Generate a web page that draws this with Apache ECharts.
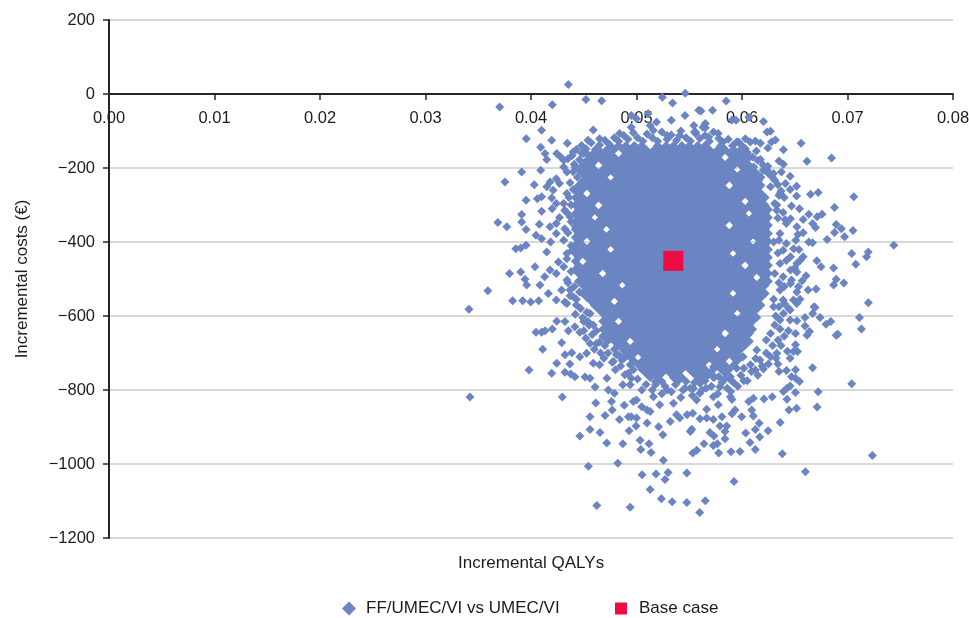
<!DOCTYPE html>
<html><head><meta charset="utf-8">
<style>html,body{margin:0;padding:0;background:#fff}#c{width:969px;height:618px}</style>
<script src="https://cdn.jsdelivr.net/npm/echarts@6/dist/echarts.min.js"></script>
</head><body><div id="c"></div>
<script>
const seriesName = "FF/UMEC/VI vs UMEC/VI";
const baseName = "Base case";
const baseCase = [0.05349, -451];
const xTickStep = 0.01;
const yTickStep = 200;

// Individually readable points: [incremental QALYs x 1000, incremental costs]
const outerPoints = [
[43.54,26],[37.03,-35],[45.21,-15],[46.70,-18],[42.02,-29],[52.45,-9],[54.62,2],[53.42,-24],[41.01,-98],[39.55,-121],[41.96,-125],[43.44,-133],[45.90,-97],[40.92,-144],[41.33,-161],[41.49,-177],[42.44,-161],[42.82,-170],[39.12,-211],[37.53,-238],[40.31,-245],[40.92,-206],[39.53,-287],[40.60,-283],[41.01,-278],[41.96,-281],[41.01,-317],[39.12,-326],[39.12,-346],[36.86,-347],[37.71,-359],[39.53,-366],[40.79,-352],[40.47,-382],[41.01,-391],[41.86,-400],[41.49,-427],[39.53,-409],[38.56,-418],[39.03,-416],[40.38,-467],[37.96,-485],[39.03,-481],[39.43,-501],[39.59,-516],[40.85,-516],[41.64,-539],[35.91,-532],[38.26,-559],[39.21,-559],[39.97,-562],[40.73,-559],[34.12,-582],
[34.21,-819],[42.97,-819],[39.81,-746],[41.11,-690],[41.96,-755],[42.44,-728],[43.22,-752],[43.68,-730],[43.76,-757],[44.16,-764],[40.47,-644],[41.01,-644],[41.33,-640],[42.02,-635],[42.91,-672],[43.22,-705],[43.86,-699],[43.54,-640],[42.44,-614],[43.22,-615],[44.63,-644],[44.16,-629],[44.63,-710],[45.27,-701],[45.12,-765],[45.59,-768],[46.07,-792],[47.33,-800],[47.90,-809],[46.14,-835],[47.63,-831],[47.70,-854],[48.84,-841],[45.59,-872],[47.02,-869],[48.39,-880],[49.24,-872],[45.59,-907],[44.63,-924],[46.54,-915],[47.18,-943],[48.70,-945],[49.30,-910],[49.96,-897],[50.34,-936],[51.19,-945],[50.41,-961],[51.38,-969],[52.55,-990],[45.44,-1006],[48.23,-998],[50.53,-1029],[51.85,-1027],[52.99,-1023],[54.77,-1024],[52.71,-1042],[51.29,-1069],[52.36,-1094],[53.38,-1102],[54.77,-1104],[46.24,-1112],[49.40,-1117],[55.99,-1131],
[56.52,-1099],[59.24,-1047],[66.01,-1021],[72.36,-977],[63.82,-972],[61.26,-961],[60.76,-942],[61.68,-927],[62.47,-910],[61.26,-907],[60.35,-916],[59.81,-966],[58.96,-967],[57.79,-970],[55.71,-963],[55.33,-970],[56.40,-945],[57.28,-950],[57.66,-945],[58.39,-932],[57.34,-924],[56.96,-915],[58.39,-912],[57.91,-897],[58.55,-897],[55.24,-906],[61.63,-890],[63.62,-888],[59.97,-872],[61.07,-870],[59.05,-864],[59.34,-854],[60.92,-854],[58.10,-872],[57.28,-880],[56.65,-876],[56.02,-878],[55.33,-863],[56.65,-852],[57.75,-840],[57.28,-818],[64.45,-854],[65.17,-849],[67.12,-846],[60.64,-831],[61.07,-822],[62.08,-824],[62.86,-818],[64.26,-825],[65.07,-807],[67.22,-805],[64.26,-795],[63.93,-804],[64.56,-789],[70.40,-783],[65.07,-768],[65.45,-777],[64.69,-764],[66.69,-740],[65.07,-745],[64.22,-747],[63.51,-750],[60.17,-775],[59.24,-781],[58.93,-804],[59.05,-826],[62.03,-743],[61.27,-746],[60.17,-741],[64.56,-714],[63.23,-714],[65.26,-696],[64.88,-696],[65.07,-678],[63.42,-665],[65.07,-647],[66.16,-652],[66.40,-642],[65.97,-627],[65.97,-604],[66.70,-593],[66.92,-577],[67.40,-604],[67.97,-622],[68.42,-615],[68.92,-652],[69.08,-649],[71.13,-604],[71.32,-635],[71.98,-564],[64.56,-611],[65.20,-613],[63.93,-593],[64.56,-584],[65.20,-566],[64.02,-566],
[58.50,-19],[56.11,-46],[57.21,-44],[59.05,-70],[59.43,-71],[60.64,-63],[62.03,-74],[56.52,-80],[56.52,-91],[55.43,-85],[55.59,-103],[57.75,-107],[62.37,-103],[62.69,-101],[56.84,-116],[59.67,-130],[60.32,-121],[60.32,-148],[60.79,-130],[61.27,-127],[61.74,-133],[62.79,-130],[63.17,-124],[62.45,-146],[61.36,-154],[65.60,-133],[63.93,-151],[66.16,-182],[68.49,-173],[61.74,-177],[63.51,-181],[63.93,-190],[62.45,-195],[70.59,-278],[66.49,-271],[67.22,-266],[65.17,-249],[64.56,-222],[64.12,-242],[63.74,-211],[62.98,-215],[62.50,-215],[65.17,-276],[64.56,-258],[63.51,-274],[68.77,-307],[65.45,-310],[64.69,-303],[67.59,-325],[67.12,-332],[66.33,-325],[65.80,-339],[68.93,-353],[69.42,-364],[70.52,-369],[68.77,-374],[69.72,-386],[68.07,-393],[66.69,-350],[66.97,-361],[65.20,-359],[65.80,-375],[66.33,-400],[66.69,-402],[74.39,-409],[70.40,-431],[71.81,-440],[71.96,-427],[70.78,-460],[65.80,-440],[67.09,-451],[67.49,-467],[68.68,-470],[65.20,-481],[66.07,-491],[68.93,-501],[68.68,-516],[69.65,-511],[64.69,-503],[65.35,-521],[66.27,-530],[67.02,-527],[64.88,-557],[65.50,-555],[64.41,-579],[66.83,-575],
[50.0,-827],[50.5,-845],[51.0,-854],[51.3,-858],[52.2,-840],[51.6,-818],[52.9,-800],[53.5,-836],[53.8,-867],[53.2,-885],[54.1,-876],[54.8,-867],[55.1,-912],[52.1,-899],[52.5,-921],[51.0,-889],[49.5,-872],[50.0,-876],[49.7,-831],[47.2,-768],[48.7,-786],[49.4,-786],[50.5,-800],[48.9,-759],[49.5,-768],[45.9,-728],[46.5,-732],[47.8,-723],[48.6,-719],[49.4,-732],[51.8,-777],[53.8,-768],[54.4,-800],[55.1,-795],[45.6,-674],[46.2,-674],[46.9,-714],[47.2,-665],[48.1,-705],[48.7,-674],[45.4,-615],[45.9,-624],
[56.0,-809],[55.7,-827],[56.6,-795],[57.9,-791],[58.9,-764],[57.3,-737],[56.6,-764],[59.5,-741],[60.8,-732],[61.7,-719],[62.7,-710],[63.3,-701],[61.4,-692],[60.1,-710],[62.3,-665],[63.1,-624],[62.7,-647],[63.6,-611],[57.8,-764],[56.0,-782],[55.4,-795],[58.9,-818],
[43.1,-197],[43.4,-211],[42.4,-229],[41.8,-238],[41.5,-251],[43.1,-179],[44.0,-157],[44.8,-139],[45.4,-125],[46.5,-121],[48.4,-107],[49.5,-90],[51.3,-85],[51.9,-76],[50.0,-67],[51.1,-53],[49.5,-58],[52.9,-112],[54.1,-112],[53.3,-71],[54.6,-58],[55.9,-44],[55.5,-103],[56.3,-90],[51.6,-98],[45.3,-179],[44.2,-197],[45.0,-161],[42.7,-242],[43.4,-269],[42.4,-296],[42.1,-260],[43.1,-296],[41.8,-359],[42.4,-350],[42.0,-310],[42.7,-334],
[42.4,-377],[43.1,-395],[43.9,-422],[42.6,-454],[43.1,-467],[41.8,-476],[41.3,-494],[42.4,-485],[43.4,-503],[42.9,-530],[43.7,-530],[42.4,-557],[43.2,-562],[44.0,-548],[43.4,-431],[43.2,-364],[43.7,-332],[44.2,-359],[43.2,-314],[44.8,-512],[45.0,-615],[45.6,-593],[44.3,-570],[43.4,-566],
[63.3,-314],[64.2,-350],[64.6,-337],[63.6,-377],[64.2,-404],[64.9,-418],[63.9,-422],[64.6,-440],[65.2,-458],[63.6,-458],[64.6,-476],[63.9,-494],[64.6,-512],[65.2,-535],[63.6,-530],[63.9,-557],[63.1,-296],[63.6,-269],[62.7,-251],[63.1,-233],[62.0,-206],[61.6,-233],[59.2,-170],[59.8,-152],[61.1,-197],[60.1,-179]
];

// Partly overlapping band round the solid centre, estimated from the crops.
const ringPoints = [
[43.5,-175],[43.9,-166],[44.3,-150],[44.8,-160],[45.2,-148],[45.7,-132],[46.1,-150],[46.5,-138],[47.0,-125],[47.4,-135],[47.9,-118],[48.3,-128],[48.8,-112],[49.2,-122],[49.7,-105],[50.1,-118],[50.6,-128],[51.0,-108],[51.5,-118],[52.0,-128],[52.4,-103],[52.9,-122],[53.3,-111],[53.8,-125],[54.2,-100],[54.7,-118],[55.1,-127],[55.6,-107],[56.0,-120],[56.5,-112],[56.9,-128],[57.3,-103],[57.8,-120],[58.2,-130],[58.7,-122],[59.1,-140],[59.5,-130],[60.0,-140],[60.5,-158],[61.0,-170],[61.5,-180],[62.0,-192],[62.4,-206],[62.9,-226],[63.4,-245],[63.7,-262],[64.0,-280],[63.3,-300],[63.9,-320],[63.4,-335],[64.1,-340],
[44.1,-190],[44.6,-178],[45.1,-195],[45.6,-170],[46.0,-158],[44.0,-210],[44.4,-225],[43.7,-240],[44.0,-258],[43.6,-280],[43.8,-300],[43.4,-320],[43.8,-345],[43.5,-375],[43.8,-410],[43.4,-445],[43.8,-480],[43.5,-510],[44.1,-520],[43.7,-545],[44.3,-555],[44.6,-535],[44.7,-580],[44.2,-595],[44.9,-605],[45.3,-590],[45.0,-640],[45.5,-625],[45.2,-660],[45.8,-650],[46.2,-640],[46.0,-690],[46.5,-670],[46.8,-655],[46.6,-700],[47.0,-680],[47.4,-665],[47.3,-700],[47.7,-725],[47.9,-690],[48.3,-705],[48.0,-745],[48.5,-735],[48.8,-715],[49.2,-755],[49.7,-745],[50.1,-770],[50.9,-785],[51.5,-800],[51.8,-785],[52.4,-810],[52.7,-790],[53.3,-805],[53.7,-785],[54.2,-820],[54.6,-795],[55.3,-815],[55.5,-780],[56.2,-800],[56.5,-775],[57.1,-790],[57.4,-765],[57.7,-810],[58.1,-780],[58.4,-770],[58.6,-795],[59.0,-775],[59.6,-790],[59.9,-760],[60.5,-775],[60.9,-750],[61.3,-715],[61.5,-760],[61.9,-735],[62.3,-700],[62.5,-730],[62.9,-680],[63.4,-730],[63.7,-680],[64.0,-655],[64.3,-695],[64.4,-640],[63.6,-635],[63.2,-600],[63.0,-575],[63.5,-575],[63.0,-555],[63.5,-510],[63.1,-485],[63.4,-430],[63.0,-400],[63.5,-395],[65.1,-395],[65.4,-420],[65.5,-450],[65.0,-470],[65.7,-505],[64.2,-450],[64.0,-520],[65.3,-380]
];

// The centre of the cloud is saturated: individual points cannot be read there,
// so these rows are hand-typed estimates that reproduce the solid area.
const coreCosts = [-139,-150,-161,-171,-182,-193,-204,-215,-225,-236,-247,-258,-269,-280,-290,-301,-312,-323,-334,-344,-355,-366,-377,-388,-398,-409,-420,-431,-442,-452,-463,-474,-485,-496,-506,-517,-528,-539,-550,-560,-571,-582,-593,-604,-614,-625,-636,-647,-658,-668,-679,-690,-701,-712,-722,-733,-744,-755,-766,-777];
const coreQalys = [
[47.5,48.3,49.0,49.8,50.5,52.0,52.8,53.5,54.3,55.0,55.8,56.5,58.0],
[46.4,47.2,47.9,48.7,49.4,50.2,50.9,51.7,52.4,53.2,53.9,54.7,55.4,56.2,56.9,57.7,58.4,59.2],
[45.3,46.0,46.8,47.5,49.0,49.8,50.5,51.3,52.0,52.8,53.5,54.3,55.0,55.8,56.5,57.3,58.0,58.8,59.5,60.3],
[45.7,46.4,47.2,47.9,48.7,49.4,50.2,50.9,51.7,52.4,53.2,53.9,54.7,55.4,56.2,56.9,57.7,59.2,59.9,60.7],
[45.3,46.0,46.8,47.5,48.3,49.0,49.8,50.5,51.3,52.0,52.8,53.5,54.3,55.0,55.8,56.5,57.3,58.0,58.8,59.5,60.3],
[44.9,45.7,47.2,47.9,48.7,49.4,50.2,50.9,51.7,52.4,53.2,53.9,54.7,55.4,56.2,56.9,57.7,58.4,59.2,59.9,60.7],
[44.5,45.3,46.0,46.8,47.5,48.3,49.0,49.8,50.5,51.3,52.0,52.8,53.5,54.3,55.0,55.8,56.5,57.3,58.0,58.8,60.3,61.0],
[44.9,45.7,46.4,47.2,47.9,48.7,49.4,50.2,50.9,51.7,52.4,53.2,53.9,54.7,55.4,56.2,56.9,57.7,58.4,59.2,59.9,60.7,61.4],
[45.3,46.0,46.8,48.3,49.0,49.8,50.5,51.3,52.0,52.8,53.5,54.3,55.0,55.8,56.5,57.3,58.0,58.8,59.5,60.3,61.0,61.8],
[44.9,45.7,46.4,47.2,47.9,48.7,49.4,50.2,50.9,51.7,52.4,53.2,53.9,54.7,55.4,56.2,56.9,57.7,58.4,59.2,59.9,60.7,61.4],
[44.5,45.3,46.0,46.8,47.5,48.3,49.0,49.8,50.5,51.3,52.0,52.8,53.5,54.3,55.0,55.8,56.5,57.3,58.0,59.5,60.3,61.0,61.8],
[44.2,44.9,45.7,46.4,47.2,47.9,48.7,49.4,50.2,50.9,51.7,52.4,53.2,53.9,54.7,55.4,56.2,56.9,57.7,58.4,59.2,59.9,60.7,61.4],
[44.5,46.0,46.8,47.5,48.3,49.0,49.8,50.5,51.3,52.0,52.8,53.5,54.3,55.0,55.8,56.5,57.3,58.0,58.8,59.5,60.3,61.0,61.8],
[44.2,44.9,45.7,46.4,47.2,47.9,48.7,49.4,50.2,50.9,51.7,52.4,53.2,53.9,54.7,55.4,56.2,56.9,57.7,58.4,59.2,59.9,60.7,61.4,62.2],
[44.5,45.3,46.0,46.8,47.5,48.3,49.0,49.8,50.5,51.3,52.0,52.8,53.5,54.3,55.0,55.8,56.5,57.3,58.0,58.8,59.5,61.0,61.8],
[44.2,44.9,45.7,47.2,47.9,48.7,49.4,50.2,50.9,51.7,52.4,53.2,53.9,54.7,55.4,56.2,56.9,57.7,58.4,59.2,59.9,60.7,61.4,62.2],
[44.5,45.3,46.0,46.8,47.5,48.3,49.0,49.8,50.5,51.3,52.0,52.8,53.5,54.3,55.0,55.8,56.5,57.3,58.0,58.8,59.5,60.3,61.0,61.8,62.5],
[44.2,44.9,45.7,46.4,47.2,47.9,48.7,49.4,50.2,50.9,51.7,52.4,53.2,53.9,54.7,55.4,56.2,56.9,57.7,58.4,59.2,59.9,61.4,62.2],
[44.5,45.3,46.8,47.5,48.3,49.0,49.8,50.5,51.3,52.0,52.8,53.5,54.3,55.0,55.8,56.5,57.3,58.0,58.8,59.5,60.3,61.0,61.8,62.5],
[44.2,44.9,45.7,46.4,47.2,47.9,48.7,49.4,50.2,50.9,51.7,52.4,53.2,53.9,54.7,55.4,56.2,56.9,57.7,58.4,59.2,59.9,60.7,61.4,62.2],
[44.5,45.3,46.0,46.8,47.5,48.3,49.0,49.8,50.5,51.3,52.0,52.8,53.5,54.3,55.0,55.8,56.5,57.3,58.0,59.5,60.3,61.0,61.8,62.5],
[44.2,44.9,45.7,46.4,47.9,48.7,49.4,50.2,50.9,51.7,52.4,53.2,53.9,54.7,55.4,56.2,56.9,57.7,58.4,59.2,59.9,60.7,61.4,62.2],
[44.5,45.3,46.0,46.8,47.5,48.3,49.0,49.8,50.5,51.3,52.0,52.8,53.5,54.3,55.0,55.8,56.5,57.3,58.0,58.8,59.5,60.3,61.0,61.8,62.5],
[44.2,44.9,45.7,46.4,47.2,47.9,48.7,49.4,50.2,50.9,51.7,52.4,53.2,53.9,54.7,55.4,56.2,56.9,57.7,58.4,59.2,59.9,60.7,61.4,62.2],
[44.5,46.0,46.8,47.5,48.3,49.0,49.8,50.5,51.3,52.0,52.8,53.5,54.3,55.0,55.8,56.5,57.3,58.0,58.8,59.5,60.3,61.8,62.5],
[44.2,44.9,45.7,46.4,47.2,47.9,48.7,49.4,50.2,50.9,51.7,52.4,53.2,53.9,54.7,55.4,56.2,56.9,57.7,58.4,59.2,59.9,60.7,61.4,62.2],
[44.5,45.3,46.0,46.8,48.3,49.0,49.8,50.5,51.3,52.0,52.8,53.5,54.3,55.0,55.8,56.5,57.3,58.0,58.8,59.5,60.3,61.0,61.8,62.5],
[44.2,44.9,45.7,46.4,47.2,47.9,48.7,49.4,50.2,50.9,51.7,52.4,53.2,53.9,54.7,55.4,56.2,56.9,57.7,58.4,59.9,60.7,61.4,62.2],
[44.5,45.3,46.0,46.8,47.5,48.3,49.0,49.8,50.5,51.3,52.0,52.8,53.5,54.3,55.0,55.8,56.5,57.3,58.0,58.8,59.5,60.3,61.0,61.8,62.5],
[44.2,45.7,46.4,47.2,47.9,48.7,49.4,50.2,50.9,51.7,52.4,53.2,53.9,54.7,55.4,56.2,56.9,57.7,58.4,59.2,59.9,60.7,61.4,62.2],
[44.5,45.3,46.0,46.8,47.5,48.3,49.0,49.8,50.5,51.3,52.0,52.8,53.5,54.3,55.0,55.8,56.5,57.3,58.0,58.8,59.5,61.0,61.8,62.5],
[44.2,44.9,45.7,46.4,47.2,47.9,48.7,49.4,50.2,50.9,51.7,52.4,53.2,53.9,54.7,55.4,56.2,56.9,57.7,58.4,59.2,59.9,60.7,61.4,62.2],
[44.5,45.3,46.0,47.5,48.3,49.0,49.8,50.5,51.3,52.0,52.8,53.5,54.3,55.0,55.8,56.5,57.3,58.0,58.8,59.5,60.3,61.0,61.8,62.5],
[44.9,45.7,46.4,47.2,47.9,48.7,49.4,50.2,50.9,51.7,52.4,53.2,53.9,54.7,55.4,56.2,56.9,57.7,58.4,59.2,59.9,60.7,62.2],
[44.5,45.3,46.0,46.8,47.5,48.3,49.0,49.8,50.5,51.3,52.0,52.8,53.5,54.3,55.0,55.8,56.5,57.3,58.0,58.8,59.5,60.3,61.0,61.8,62.5],
[44.9,45.7,46.4,47.2,47.9,49.4,50.2,50.9,51.7,52.4,53.2,53.9,54.7,55.4,56.2,56.9,57.7,58.4,59.2,59.9,60.7,61.4,62.2],
[45.3,46.0,46.8,47.5,48.3,49.0,49.8,50.5,51.3,52.0,52.8,53.5,54.3,55.0,55.8,56.5,57.3,58.0,58.8,59.5,60.3,61.0,61.8],
[44.9,45.7,46.4,47.2,47.9,48.7,49.4,50.2,50.9,51.7,52.4,53.2,53.9,54.7,55.4,56.2,56.9,57.7,58.4,59.9,60.7,61.4,62.2],
[45.3,46.0,46.8,47.5,48.3,49.0,49.8,50.5,51.3,52.0,52.8,53.5,54.3,55.0,55.8,56.5,57.3,58.0,58.8,59.5,60.3,61.0,61.8],
[45.7,46.4,47.2,48.7,49.4,50.2,50.9,51.7,52.4,53.2,53.9,54.7,55.4,56.2,56.9,57.7,58.4,59.2,59.9,60.7,61.4],
[46.0,46.8,47.5,48.3,49.0,49.8,50.5,51.3,52.0,52.8,53.5,54.3,55.0,55.8,56.5,57.3,58.0,58.8,59.5,60.3,61.0,61.8],
[46.4,47.2,47.9,48.7,49.4,50.2,50.9,51.7,52.4,53.2,53.9,54.7,55.4,56.2,56.9,57.7,58.4,59.2,59.9,60.7,61.4],
[46.8,47.5,48.3,49.0,49.8,50.5,51.3,52.0,52.8,53.5,54.3,55.0,55.8,56.5,57.3,58.0,58.8,60.3,61.0],
[47.2,47.9,48.7,49.4,50.2,50.9,51.7,52.4,53.2,53.9,54.7,55.4,56.2,56.9,57.7,58.4,59.2,59.9,60.7,61.4],
[46.8,47.5,49.0,49.8,50.5,51.3,52.0,52.8,53.5,54.3,55.0,55.8,56.5,57.3,58.0,58.8,59.5,60.3,61.0],
[47.2,47.9,48.7,49.4,50.2,50.9,51.7,52.4,53.2,53.9,54.7,55.4,56.2,56.9,57.7,58.4,59.2,59.9,60.7],
[46.8,47.5,48.3,49.0,49.8,50.5,51.3,52.0,52.8,53.5,54.3,55.0,55.8,56.5,57.3,58.0,58.8,59.5,60.3,61.0],
[47.2,47.9,48.7,49.4,50.2,50.9,51.7,52.4,53.2,53.9,54.7,55.4,56.2,56.9,57.7,59.2,59.9,60.7],
[47.5,48.3,49.0,49.8,50.5,51.3,52.0,52.8,53.5,54.3,55.0,55.8,56.5,57.3,58.0,58.8,59.5,60.3],
[47.9,48.7,50.2,50.9,51.7,52.4,53.2,53.9,54.7,55.4,56.2,56.9,57.7,58.4,59.2,59.9,60.7],
[48.3,49.0,49.8,50.5,51.3,52.0,52.8,53.5,54.3,55.0,55.8,56.5,57.3,58.0,58.8,59.5,60.3],
[48.7,49.4,50.2,50.9,51.7,52.4,53.2,53.9,54.7,55.4,56.2,56.9,58.4,59.2,59.9],
[49.0,49.8,50.5,51.3,52.0,52.8,53.5,54.3,55.0,55.8,56.5,57.3,58.0,58.8,59.5],
[49.4,50.9,51.7,52.4,53.2,53.9,54.7,55.4,56.2,56.9,57.7,58.4,59.2,59.9],
[49.8,50.5,51.3,52.0,52.8,53.5,54.3,55.0,55.8,56.5,57.3,58.0,59.5],
[50.2,50.9,51.7,52.4,53.2,53.9,54.7,55.4,56.2,57.7,58.4,59.2],
[50.5,51.3,52.0,52.8,53.5,54.3,55.0,55.8,56.5,57.3,58.0,58.8],
[50.9,51.7,52.4,53.2,53.9,55.4,56.2,56.9,58.4],
[51.3,52.0,53.5,54.3,55.8,56.5,57.3],
[52.4,53.9,54.7,56.2]
];

const blue = "#6a85c2", red = "#ee0a42", ink = "#1c1c1c", rule = "#d9d9d9";
const font = "Liberation Sans";
const cloud = outerPoints.concat(ringPoints).map(p => [p[0] / 1000, p[1]]);
coreQalys.forEach((row, i) => row.forEach(q => cloud.push([q / 1000, coreCosts[i]])));

const chart = echarts.init(document.getElementById("c"), null, {renderer: "canvas"});
chart.setOption({
  animation: false,
  backgroundColor: "#fff",
  textStyle: {fontFamily: font, color: ink},
  title: {text: "Incremental QALYs", left: 458, top: 555, padding: 0,
    textStyle: {fontFamily: font, fontSize: 17, fontWeight: "normal", color: ink}},
  grid: {left: 109, top: 20, right: 16, bottom: 80, containLabel: false, outerBoundsMode: "none"},
  legend: [
    {left: 342, top: 600, padding: 0, itemWidth: 14, itemHeight: 14, data: [{name: seriesName, icon: "diamond"}],
      textStyle: {fontFamily: font, fontSize: 17, color: ink, padding: [0, 0, 0, 5]}},
    {left: 615, top: 600, padding: 0, itemWidth: 12, itemHeight: 12, data: [{name: baseName, icon: "rect"}],
      textStyle: {fontFamily: font, fontSize: 17, color: ink, padding: [0, 0, 0, 7]}}
  ],
  xAxis: {
    type: "value", min: 0, max: 0.08, interval: xTickStep,
    axisLine: {onZero: true, lineStyle: {color: "#262626", width: 2}},
    axisTick: {show: true, length: 6, inside: false, lineStyle: {color: "#262626", width: 1.5}},
    axisLabel: {fontFamily: font, fontSize: 16.5, color: ink, margin: -428, formatter: v => v.toFixed(2)},
    splitLine: {show: false}
  },
  yAxis: {
    type: "value", min: -1200, max: 200, interval: yTickStep,
    name: "Incremental costs (€)", nameLocation: "middle", nameGap: 78,
    nameTextStyle: {fontFamily: font, fontSize: 17, color: ink},
    axisLine: {onZero: false, lineStyle: {color: "#262626", width: 2}},
    axisTick: {show: true, length: 6, lineStyle: {color: "#262626", width: 1.5}},
    axisLabel: {fontFamily: font, fontSize: 16.5, color: ink, margin: 14,
      formatter: v => String(v).replace("-", "\u2212")},
    splitLine: {show: true, lineStyle: {color: rule, width: 2}}
  },
  series: [
    {name: seriesName, type: "scatter", symbol: "diamond", symbolSize: 9, data: cloud,
      itemStyle: {color: blue, opacity: 1}, large: false, silent: true, z: 2},
    {name: baseName, type: "scatter", symbol: "rect", symbolSize: 20, data: [baseCase],
      itemStyle: {color: red, opacity: 1}, silent: true, z: 3}
  ]
});
</script></body></html>
